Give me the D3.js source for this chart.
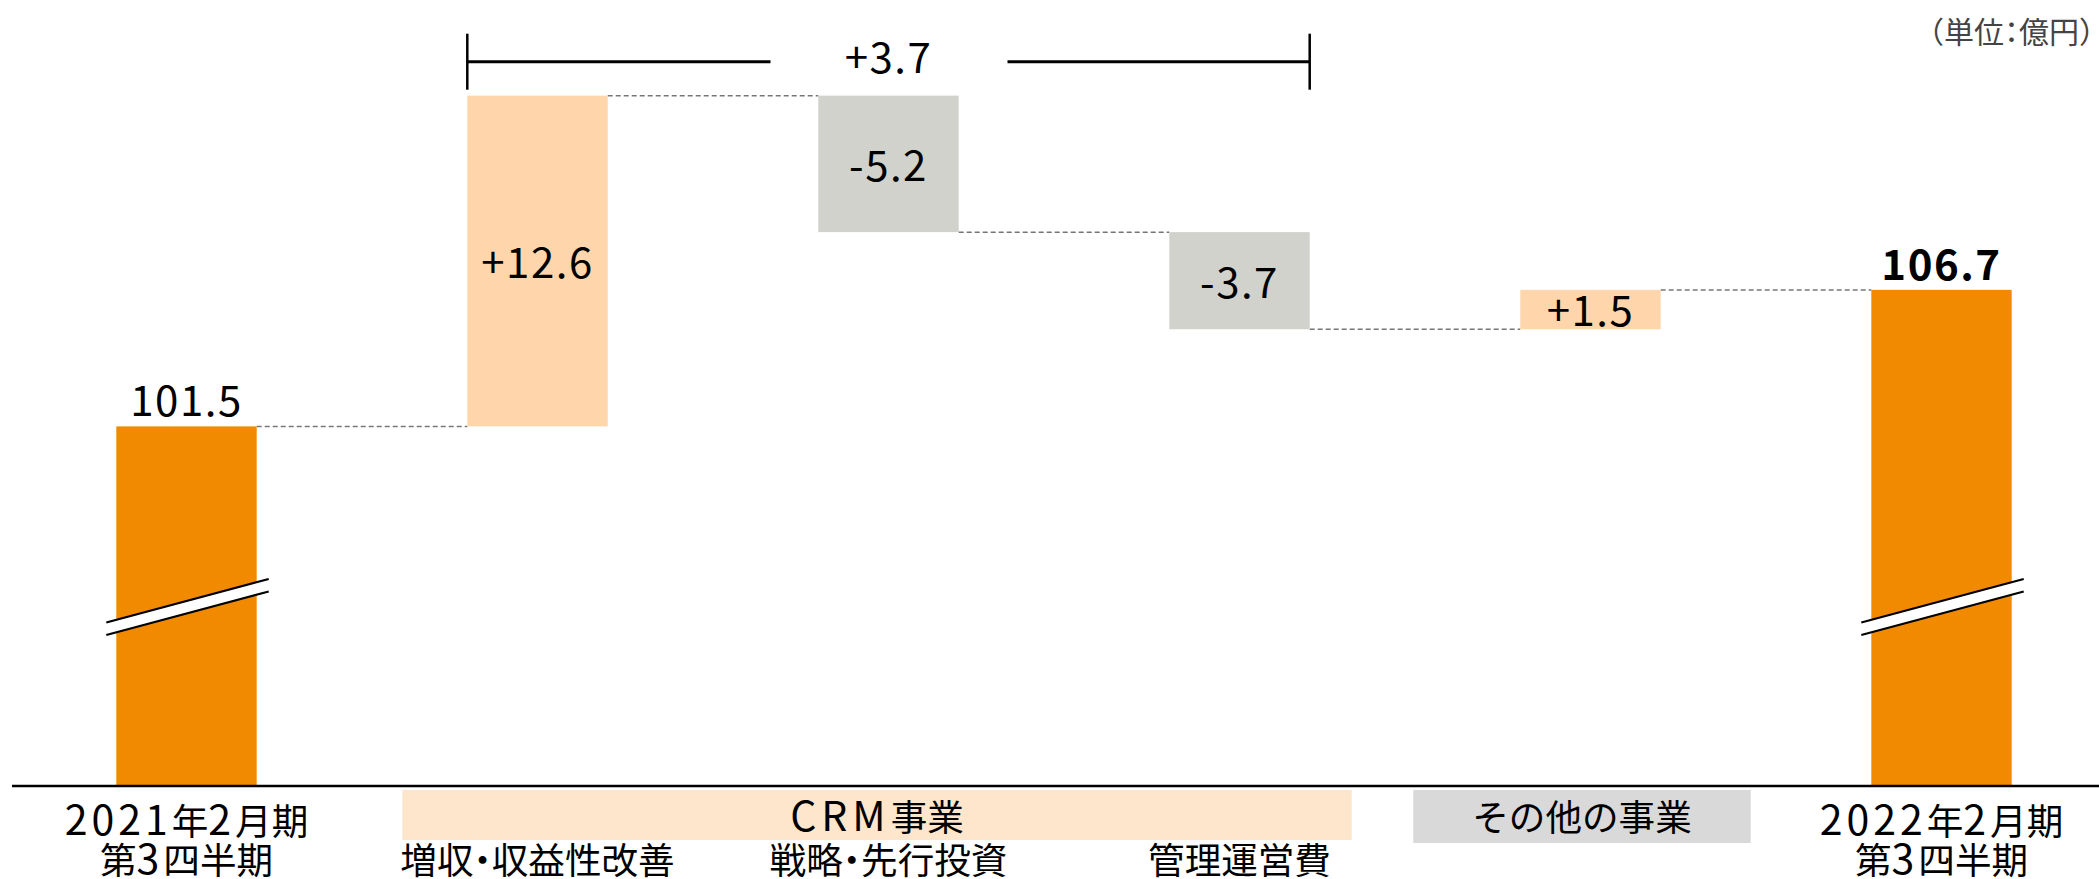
<!DOCTYPE html>
<html><head><meta charset="utf-8">
<script src="https://cdn.jsdelivr.net/npm/d3@7"></script>
<style>
html,body{margin:0;padding:0;background:#fff;}
svg{display:block;font-family:"Noto Sans CJK JP","Noto Sans",sans-serif;}
</style></head>
<body>
<svg id="chart" width="2099" height="879"></svg>
<script>
// ---- data ----
const stepKeys   = ["fy21q3", "crm1", "crm2", "crm3", "other", "fy22q3"];
const stepTypes  = ["total", "delta", "delta", "delta", "delta", "total"];
const stepValues = [101.5, 12.6, -5.2, -3.7, 1.5, 106.7];
const valueLabels = ["101.5", "+12.6", "-5.2", "-3.7", "+1.5", "106.7"];
const tickLine1 = ["2021年2月期", "", "", "", "", "2022年2月期"];
const tickLine2 = ["第3四半期", "増収・収益性改善", "戦略・先行投資", "管理運営費", "", "第3四半期"];
const groupNames = ["CRM事業", "その他の事業"];
const groupMembers = [["crm1", "crm2", "crm3"], ["other"]];
const bracketMembers = ["crm1", "crm2", "crm3"];
const unitLabel = "（単位：億円）";
const yDomain = [87.8, 115];

// ---- layout ----
const W = 2099, H = 879;
const axisY = 786, topY = 72;
const svg = d3.select("#chart");
const x = d3.scaleBand().domain(stepKeys).range([11, 2117]).paddingInner(0.6).paddingOuter(0.3);
const y = d3.scaleLinear().domain(yDomain).range([axisY, topY]);
const bw = x.bandwidth();

const C = {total:"#F28A00", up:"#FFD6AC", down:"#D1D2CC", grpCRM:"#FEE6CC", grpOther:"#D9D9D9"};

// compute steps
let run = 0;
const steps = stepKeys.map((k, i) => {
  const t = stepTypes[i], v = stepValues[i];
  let y0, y1;
  if (t === "total") { y0 = yDomain[0]; y1 = v; run = v; }
  else { y0 = run; y1 = run + v; run = y1; }
  return {key:k, type:t, value:v, lo:Math.min(y0,y1), hi:Math.max(y0,y1), end:y1, label:valueLabels[i], i};
});

// helper: text where ASCII runs are set a bit larger and wider
function richText(sel, str, asciiSize, asciiSpacing) {
  const runs = str.match(/[\x20-\x7E]+|[^\x20-\x7E]+/g) || [];
  runs.forEach(r => {
    const t = sel.append("tspan").text(r);
    if (/^[\x20-\x7E]+$/.test(r)) t.attr("font-size", asciiSize).attr("letter-spacing", asciiSpacing);
  });
}

// connectors
const conn = svg.append("g");
for (let i = 0; i < steps.length - 1; i++) {
  const lvl = steps[i].type === "total" ? steps[i].value : steps[i].end;
  conn.append("line")
    .attr("x1", x(steps[i].key) + bw).attr("x2", x(steps[i+1].key))
    .attr("y1", y(lvl)).attr("y2", y(lvl))
    .attr("stroke", "#777").attr("stroke-width", 1.5).attr("stroke-dasharray", "5,3");
}

// bars
svg.append("g").selectAll("rect").data(steps).join("rect")
  .attr("x", d => x(d.key)).attr("width", bw)
  .attr("y", d => y(d.hi)).attr("height", d => y(d.lo) - y(d.hi))
  .attr("fill", d => d.type === "total" ? C.total : (d.value >= 0 ? C.up : C.down));

// break marks on total bars
const brk = svg.append("g");
steps.filter(d => d.type === "total").forEach(d => {
  const xl = x(d.key) - 10, xr = x(d.key) + bw + 12;
  const yl = 622.5, yr = 579, gap = 12.5;
  brk.append("path")
    .attr("d", `M${xl},${yl}L${xr},${yr}L${xr},${yr+gap}L${xl},${yl+gap}Z`)
    .attr("fill", "#fff");
  [0, gap].forEach(g => brk.append("line")
    .attr("x1", xl).attr("y1", yl + g).attr("x2", xr).attr("y2", yr + g)
    .attr("stroke", "#000").attr("stroke-width", 2.2));
});

// value labels
const vl = svg.append("g").attr("text-anchor", "middle").attr("font-size", 42).attr("fill", "#000");
steps.forEach(d => {
  const cx = x(d.key) + bw / 2;
  if (d.type === "total") {
    vl.append("text").attr("x", cx).attr("y", y(d.value) - 10)
      .attr("font-weight", d.i === steps.length - 1 ? "bold" : "normal")
      .attr("letter-spacing", 1.5).text(d.label);
  } else {
    vl.append("text").attr("x", cx).attr("y", (y(d.lo) + y(d.hi)) / 2)
      .attr("dominant-baseline", "central").attr("dy", "-0.04em")
      .attr("letter-spacing", 1.5).text(d.label);
  }
});

// bracket
const bSum = d3.sum(bracketMembers.map(k => stepValues[stepKeys.indexOf(k)]));
const bx0 = x(bracketMembers[0]), bx1 = x(bracketMembers[bracketMembers.length-1]) + bw;
const bmid = x(bracketMembers[1]) + bw / 2;
const by = 61.7, bh = 28;
const bg = svg.append("g").attr("stroke", "#000");
bg.append("line").attr("x1", bx0).attr("x2", bx0).attr("y1", by - bh).attr("y2", by + bh).attr("stroke-width", 2.5);
bg.append("line").attr("x1", bx1).attr("x2", bx1).attr("y1", by - bh).attr("y2", by + bh).attr("stroke-width", 2.5);
bg.append("line").attr("x1", bx0).attr("x2", bmid - 118).attr("y1", by).attr("y2", by).attr("stroke-width", 3);
bg.append("line").attr("x1", bmid + 119).attr("x2", bx1).attr("y1", by).attr("y2", by).attr("stroke-width", 3);
svg.append("text").attr("x", bmid).attr("y", 73).attr("text-anchor", "middle")
  .attr("font-size", 42).attr("letter-spacing", 1.5).attr("fill", "#000")
  .text((bSum >= 0 ? "+" : "") + d3.format(".1f")(bSum));

// axis line
svg.append("line").attr("x1", 12).attr("x2", W).attr("y1", axisY).attr("y2", axisY)
  .attr("stroke", "#000").attr("stroke-width", 2.5);

// group boxes
const gb = svg.append("g");
const grpBox = [
  {x0: x(groupMembers[0][0]) - 65, x1: x(groupMembers[0][groupMembers[0].length-1]) + bw + 42, fill: C.grpCRM},
  {x0: x(groupMembers[1][0]) - 107, x1: x(groupMembers[1][0]) + bw + 90, fill: C.grpOther}
];
groupNames.forEach((g, i) => {
  const b = grpBox[i];
  gb.append("rect").attr("x", b.x0).attr("y", 790).attr("width", b.x1 - b.x0).attr("height", i === 0 ? 50 : 53).attr("fill", b.fill);
  const t = gb.append("text").attr("x", (b.x0 + b.x1) / 2).attr("y", 831).attr("text-anchor", "middle")
    .attr("font-size", 36.6).attr("fill", "#000");
  richText(t, g, 41, 5);
});

// tick labels
const tl = svg.append("g").attr("text-anchor", "middle").attr("font-size", 36.6).attr("fill", "#000");
stepKeys.forEach((k, i) => {
  const cx = x(k) + bw / 2;
  if (tickLine1[i]) { const t = tl.append("text").attr("x", cx).attr("y", 835); richText(t, tickLine1[i], 41, 4); }
  if (tickLine2[i]) { const t = tl.append("text").attr("x", cx).attr("y", 873.5).style("font-feature-settings", "'halt'"); richText(t, tickLine2[i], 41, 4); }
});

// unit
svg.append("text").attr("x", 2094).attr("y", 43).attr("text-anchor", "end")
  .attr("font-size", 30).attr("fill", "#444").style("font-feature-settings", "'halt'").text(unitLabel);
</script>
</body></html>
